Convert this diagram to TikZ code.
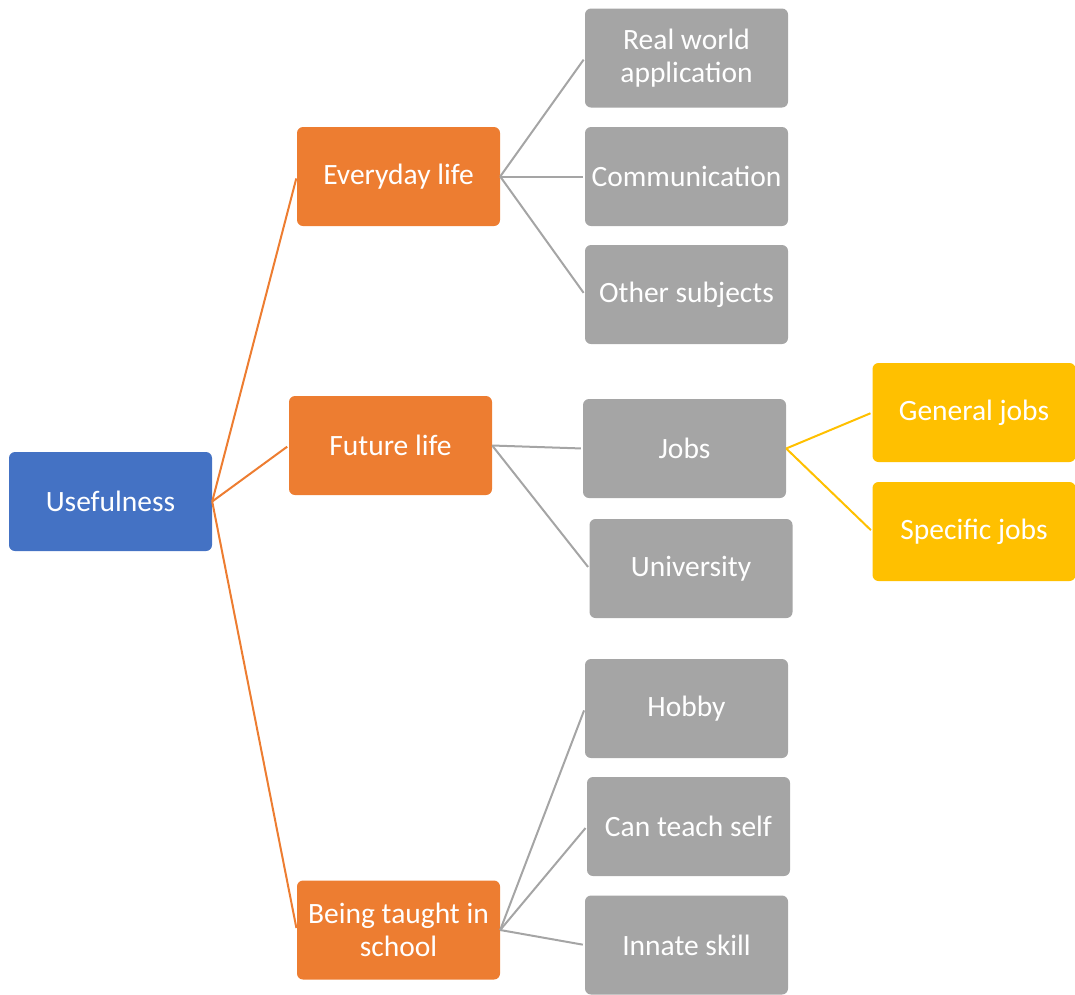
\documentclass[tikz,border=0pt]{standalone}
\usepackage{fontspec}
\setmainfont{Carlito}
\begin{document}
\begin{tikzpicture}[x=1pt,y=-1pt,
  box/.style={rectangle,rounded corners=6pt,minimum width=203pt,minimum height=99pt,
    inner sep=0pt,align=center,text=white,font=\fontsize{29.5}{33}\selectfont},
  rootbox/.style={box,fill=rootblue},
  midbox/.style={box,fill=midorange},
  leafbox/.style={box,fill=leafgray},
  jobbox/.style={box,fill=jobyellow},
  link/.style={line width=2pt,shorten >=2pt},
]
\definecolor{rootblue}{HTML}{4472C4}
\definecolor{midorange}{HTML}{ED7D31}
\definecolor{leafgray}{HTML}{A5A5A5}
\definecolor{jobyellow}{HTML}{FFC000}
\useasboundingbox (0,0) rectangle (1075,994);

% root
\node[rootbox] (use) at (110.5,501.5) {Usefulness};

% second level
\node[midbox] (every) at (398.5,176.5) {Everyday life};
\node[midbox] (future) at (390.5,445.5) {Future life};
\node[midbox] (school) at (398.5,930) {Being taught in\\school};

% everyday life branches
\node[leafbox] (real) at (686.5,58) {Real world\\application};
\node[leafbox] (comm) at (686.5,176.5) {Communication};
\node[leafbox] (other) at (686.5,294.5) {Other subjects};

% future life branches
\node[leafbox] (jobs) at (684.5,448.5) {Jobs};
\node[leafbox] (uni) at (691,568.5) {University};
\node[jobbox] (gen) at (974,412.5) {General jobs};
\node[jobbox] (spec) at (974,531.5) {Specific jobs};

% school branches
\node[leafbox] (hobby) at (686.5,708.5) {Hobby};
\node[leafbox] (teach) at (688.5,826.5) {Can teach self};
\node[leafbox] (innate) at (686.5,945) {Innate skill};

% connectors
\foreach \c in {every,future,school}
  \draw[link,midorange] (use.east) -- (\c.west);
\foreach \c in {real,comm,other}
  \draw[link,leafgray] (every.east) -- (\c.west);
\foreach \c in {jobs,uni}
  \draw[link,leafgray] (future.east) -- (\c.west);
\foreach \c in {hobby,teach,innate}
  \draw[link,leafgray] (school.east) -- (\c.west);
\foreach \c in {gen,spec}
  \draw[link,jobyellow] (jobs.east) -- (\c.west);
\end{tikzpicture}
\end{document}
